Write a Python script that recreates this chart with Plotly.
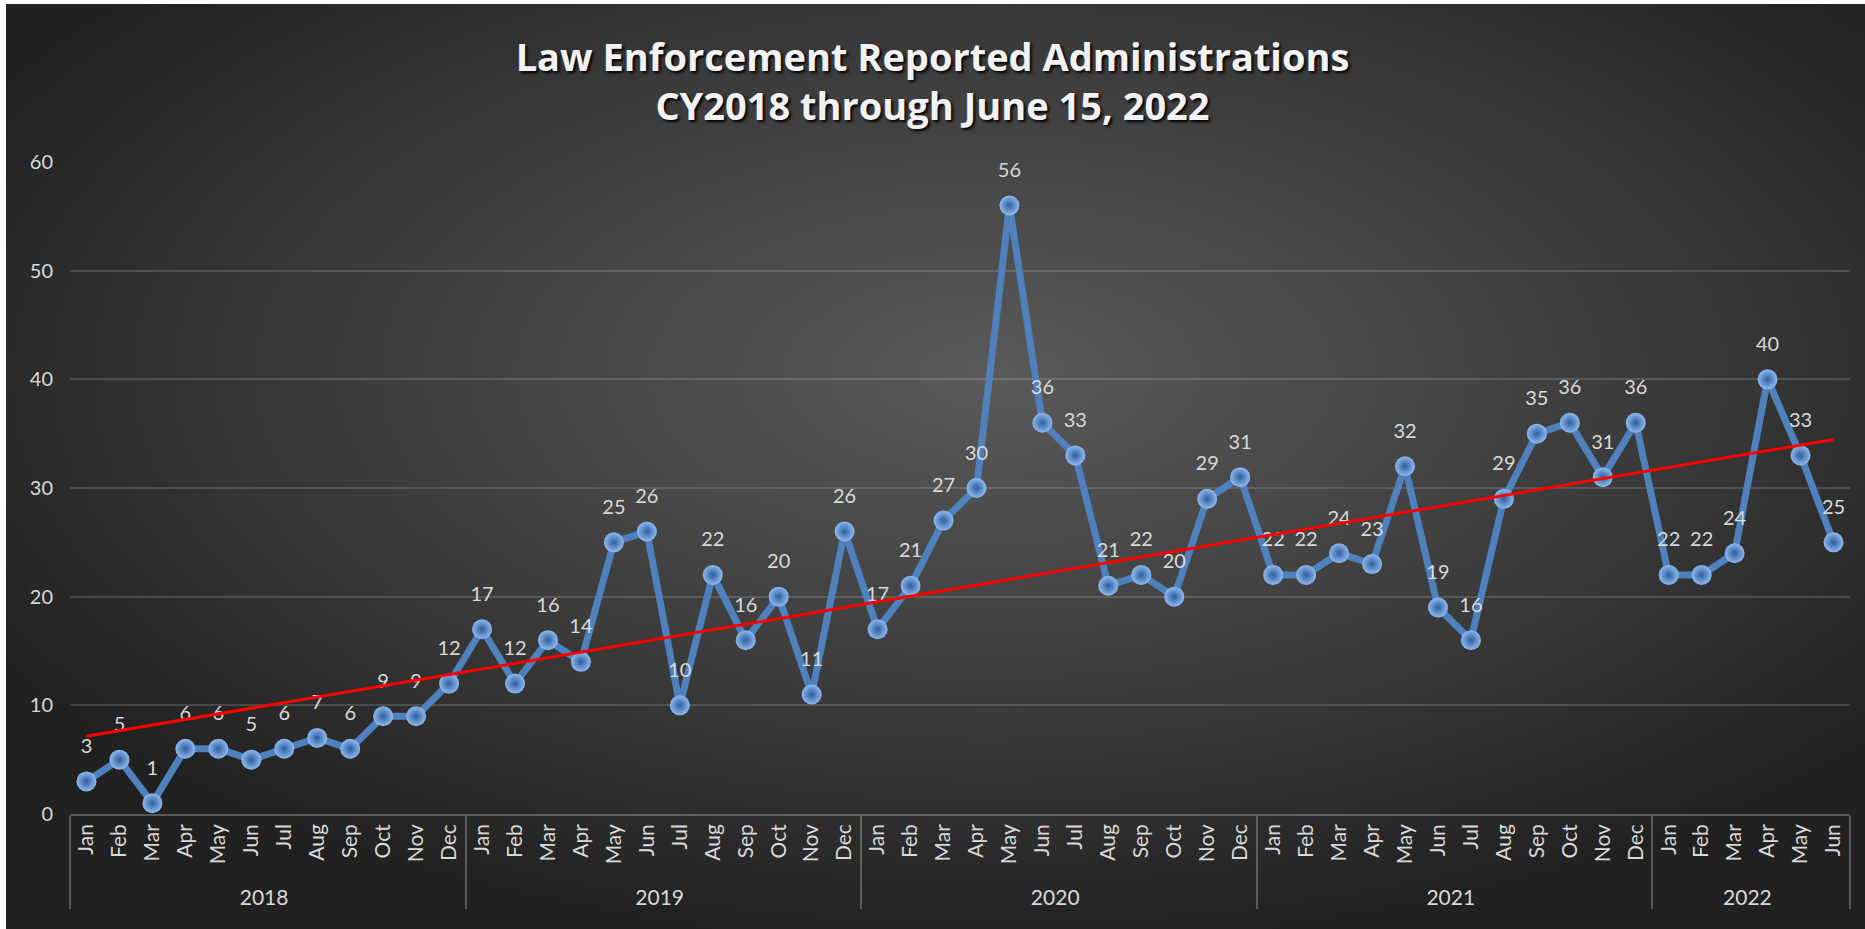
import base64

import numpy as np
import plotly.graph_objects as go

YEARS = ["2018", "2019", "2020", "2021", "2022"]
MONTHS = ["Jan", "Feb", "Mar", "Apr", "May", "Jun",
          "Jul", "Aug", "Sep", "Oct", "Nov", "Dec"]

counts_2018 = [3, 5, 1, 6, 6, 5, 6, 7, 6, 9, 9, 12]
counts_2019 = [17, 12, 16, 14, 25, 26, 10, 22, 16, 20, 11, 26]
counts_2020 = [17, 21, 27, 30, 56, 36, 33, 21, 22, 20, 29, 31]
counts_2021 = [22, 22, 24, 23, 32, 19, 16, 29, 35, 36, 31, 36]
counts_2022 = [22, 22, 24, 40, 33, 25]

Y_TICKS = [0, 10, 20, 30, 40, 50, 60]

TITLE = "Law Enforcement Reported Administrations<br>CY2018 through June 15, 2022"

W, H = 1865, 929
M_L, M_R, M_T, M_B = 70, 15, 162, 115
FONT = "Lato, 'Open Sans', sans-serif"
TEXT = "#d9d9d9"

by_year = [counts_2018, counts_2019, counts_2020, counts_2021, counts_2022]
year_axis, month_axis, values = [], [], []
for year, counts in zip(YEARS, by_year):
    for month, v in zip(MONTHS, counts):
        year_axis.append(year)
        month_axis.append(month)
        values.append(v)

# linear trendline, like Excel's
idx = np.arange(len(values))
slope, intercept = np.polyfit(idx, values, 1)
trend = slope * idx + intercept

# dark radial background (Excel chart style)
svg = (
    f'<svg xmlns="http://www.w3.org/2000/svg" width="{W}" height="{H}">'
    '<defs><radialGradient id="g" cx="0.53" cy="0.4" r="0.62">'
    '<stop offset="0" stop-color="#5a5a5a"/>'
    '<stop offset="0.55" stop-color="#3c3c3c"/>'
    '<stop offset="1" stop-color="#212121"/>'
    '</radialGradient></defs>'
    '<rect width="100%" height="100%" fill="url(#g)"/></svg>'
)
bg_src = "data:image/svg+xml;base64," + base64.b64encode(svg.encode()).decode()
plot_w = W - M_L - M_R
plot_h = H - M_T - M_B

fig = go.Figure()

fig.add_trace(go.Scatter(
    x=[year_axis, month_axis],
    y=values,
    mode="lines+markers",
    line=dict(color="#4f81bd", width=7),
    marker=dict(
        size=20,
        color="#8fbaf0",
        gradient=dict(type="radial", color="#2c5d9e"),
        line=dict(width=0),
    ),
    cliponaxis=False,
    showlegend=False,
))

# data labels, pushed up by an invisible larger marker
fig.add_trace(go.Scatter(
    x=[year_axis, month_axis],
    y=values,
    mode="markers+text",
    text=[str(v) for v in values],
    textposition="top center",
    textfont=dict(family=FONT, size=20, color=TEXT),
    marker=dict(size=36, color="rgba(0,0,0,0)"),
    cliponaxis=False,
    showlegend=False,
    hoverinfo="skip",
))

fig.add_trace(go.Scatter(
    x=[year_axis, month_axis],
    y=trend,
    mode="lines",
    line=dict(color="#ff0000", width=3),
    showlegend=False,
    hoverinfo="skip",
))

fig.update_layout(
    width=W,
    height=H,
    margin=dict(l=M_L, r=M_R, t=M_T, b=M_B),
    paper_bgcolor="white",
    plot_bgcolor="rgba(0,0,0,0)",
    title=dict(
        text=TITLE,
        x=0.5,
        xref="container",
        xanchor="center",
        y=0.924,
        yanchor="top",
        font=dict(family="'Open Sans', sans-serif", size=38, color="#f2f2f2",
                  weight="bold", shadow="2px 2px 3px #000000"),
    ),
    images=[dict(
        source=bg_src,
        xref="paper", yref="paper",
        x=-(M_L - 6) / plot_w, y=1 + (M_T - 4) / plot_h,
        sizex=(W - 6) / plot_w, sizey=(H - 4) / plot_h,
        xanchor="left", yanchor="top",
        sizing="stretch",
        layer="below",
    )],
)

fig.update_yaxes(
    range=[0, 60],
    tickvals=Y_TICKS,
    showgrid=True,
    gridcolor="rgba(255,255,255,0.15)",
    gridwidth=1.5,
    zeroline=False,
    showline=False,
    tickfont=dict(family=FONT, size=20, color=TEXT),
    ticks="",
    ticklabelstandoff=16,
)

fig.update_xaxes(
    type="multicategory",
    range=[-0.5, len(values) - 0.5],
    showgrid=False,
    showline=True,
    linecolor="rgba(255,255,255,0.25)",
    linewidth=1.5,
    tickangle=-90,
    tickfont=dict(family=FONT, size=21, color=TEXT),
    showdividers=True,
    dividercolor="rgba(255,255,255,0.25)",
    dividerwidth=1.5,
    ticks="",
)

fig.write_html(
    "out.html",
    config={"displayModeBar": False},
    post_script="document.body.style.margin = '0';",
)
